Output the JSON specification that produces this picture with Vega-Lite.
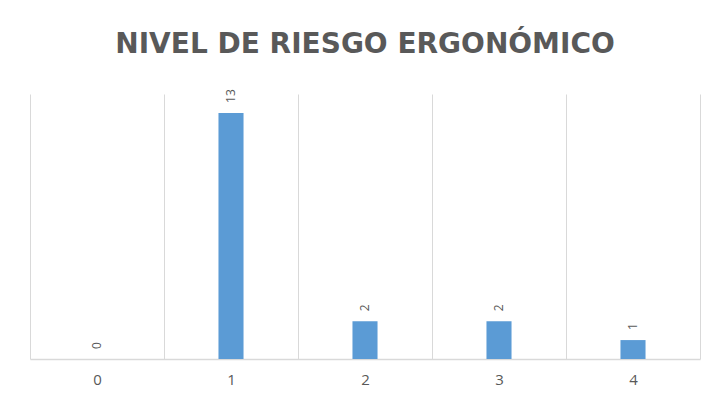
{
  "$schema": "https://vega.github.io/schema/vega-lite/v6.json",
  "autosize": {"type": "none"},
  "width": 670,
  "height": 265,
  "padding": {"left": 30, "top": 94, "right": 15, "bottom": 42},
  "background": "white",
  "config": {"view": {"stroke": null}, "font": "Open Sans"},
  "title": {
    "text": "NIVEL DE RIESGO ERGONÓMICO",
    "font": "DejaVu Sans",
    "fontSize": 28,
    "fontWeight": "bold",
    "color": "#595959",
    "anchor": "middle",
    "offset": 30
  },
  "data": {
    "values": [
      {"nivel": "0", "count": 0},
      {"nivel": "1", "count": 13},
      {"nivel": "2", "count": 2},
      {"nivel": "3", "count": 2},
      {"nivel": "4", "count": 1}
    ]
  },
  "encoding": {
    "x": {
      "field": "nivel",
      "type": "nominal",
      "sort": null,
      "scale": {"paddingInner": 0, "paddingOuter": 0},
      "axis": {
        "title": null,
        "labelAngle": 0,
        "tickBand": "extent",
        "grid": true,
        "gridColor": "#d9d9d9",
        "gridWidth": 1,
        "domainColor": "#d9d9d9",
        "domainWidth": 1.5,
        "ticks": false,
        "labelFontSize": 15,
        "labelColor": "#595959",
        "labelPadding": 13,
        "labelFont": "Open Sans"
      }
    },
    "y": {
      "field": "count",
      "type": "quantitative",
      "scale": {"domain": [0, 14]},
      "axis": null
    }
  },
  "layer": [
    {"mark": {"type": "bar", "color": "#5b9bd5", "width": {"band": 0.187}}},
    {
      "mark": {
        "type": "text",
        "angle": 270,
        "align": "left",
        "baseline": "middle",
        "dx": 10,
        "fontSize": 12,
        "color": "#595959",
        "font": "Open Sans"
      },
      "encoding": {"text": {"field": "count", "type": "quantitative"}}
    }
  ]
}
